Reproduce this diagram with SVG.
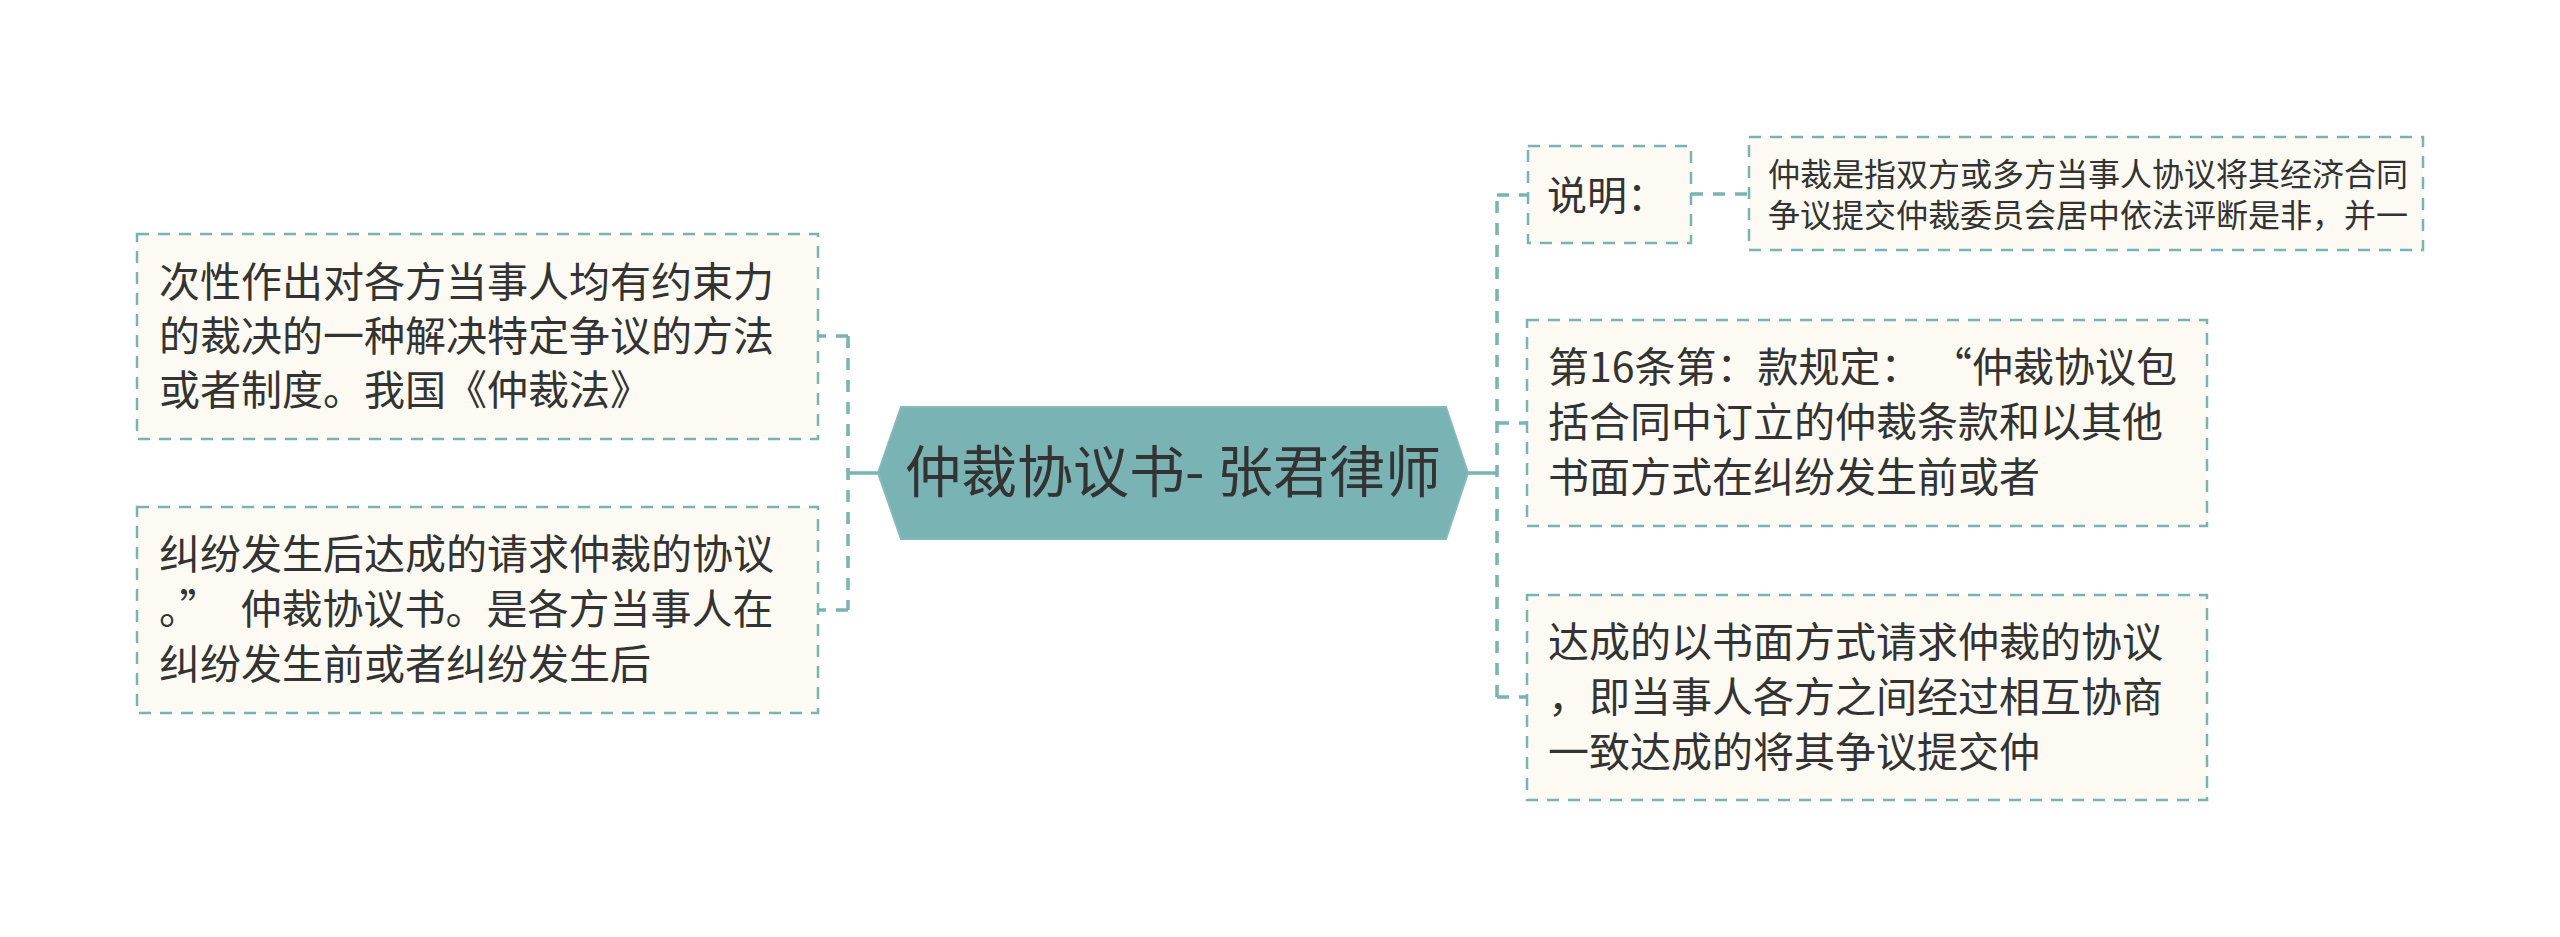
<svg xmlns="http://www.w3.org/2000/svg" width="2560" height="937" viewBox="0 0 2560 937">
<style>
.bg{fill:#ffffff}
.box{fill:#fcfaf2;stroke:#7ab3b3;stroke-width:2.5;stroke-dasharray:12 9}
.t{font-family:"Noto Sans CJK SC","Noto Sans",sans-serif;fill:#333333}
.t41{font-size:41px}
.t40{font-size:40px}
.t32{font-size:32px}
.conn{fill:none;stroke:#7ab3b3;stroke-width:3.5;stroke-dasharray:12 10}
.solid{fill:none;stroke:#7ab3b3;stroke-width:3.5}
</style>
<rect class="bg" x="0" y="0" width="2560" height="937"/>
<g id="connectors">
  <path class="solid" d="M878 473 L848 473"/>
  <path class="conn" d="M848 336 L848 610"/>
  <path class="conn" d="M848 336 L818 336"/>
  <path class="conn" d="M848 610 L818 610"/>
  <path class="solid" d="M1468 473 L1497 473"/>
  <path class="conn" d="M1497 697 L1497 195"/>
  <path class="conn" d="M1497 195 L1528 195"/>
  <path class="conn" d="M1497 423 L1527 423"/>
  <path class="conn" d="M1497 697 L1527 697"/>
  <path class="conn" d="M1691 194 L1749 194"/>
</g>
<g id="root">
  <polygon points="878,473 901,407 1446,407 1468,473 1446,539 901,539" fill="#7ab3b3" stroke="#86baba" stroke-width="2"/>
  <text class="t" x="1173" y="492" font-size="56" text-anchor="middle">仲裁协议书- 张君律师</text>
</g>
<g id="left1">
  <rect class="box" x="137" y="234" width="681" height="205"/>
  <text class="t t41" x="159" y="297">次性作出对各方当事人均有约束力</text>
  <text class="t t41" x="159" y="351">的裁决的一种解决特定争议的方法</text>
  <text class="t t41" x="159" y="405">或者制度。我国《仲裁法》</text>
</g>
<g id="left2">
  <rect class="box" x="137" y="507" width="681" height="206"/>
  <text class="t t41" x="159" y="569">纠纷发生后达成的请求仲裁的协议</text>
  <text class="t t41" x="159" y="624">。”<tspan dx="20">仲裁协议书。是各方当事人在</tspan></text>
  <text class="t t41" x="159" y="679">纠纷发生前或者纠纷发生后</text>
</g>
<g id="shuoming">
  <rect class="box" x="1528" y="146" width="163" height="97"/>
  <text class="t t40" x="1547" y="210">说明：</text>
</g>
<g id="shuoming-detail">
  <rect class="box" x="1749" y="137" width="674" height="113"/>
  <text class="t t32" x="1768" y="186">仲裁是指双方或多方当事人协议将其经济合同</text>
  <text class="t t32" x="1768" y="227">争议提交仲裁委员会居中依法评断是非，并一</text>
</g>
<g id="right2">
  <rect class="box" x="1527" y="320" width="680" height="206"/>
  <text class="t t41" x="1548" y="382">第16条第：款规定：<tspan dx="30">“仲裁协议包</tspan></text>
  <text class="t t41" x="1548" y="437">括合同中订立的仲裁条款和以其他</text>
  <text class="t t41" x="1548" y="492">书面方式在纠纷发生前或者</text>
</g>
<g id="right3">
  <rect class="box" x="1527" y="595" width="680" height="205"/>
  <text class="t t41" x="1548" y="657">达成的以书面方式请求仲裁的协议</text>
  <text class="t t41" x="1548" y="712">，即当事人各方之间经过相互协商</text>
  <text class="t t41" x="1548" y="767">一致达成的将其争议提交仲</text>
</g>
</svg>
